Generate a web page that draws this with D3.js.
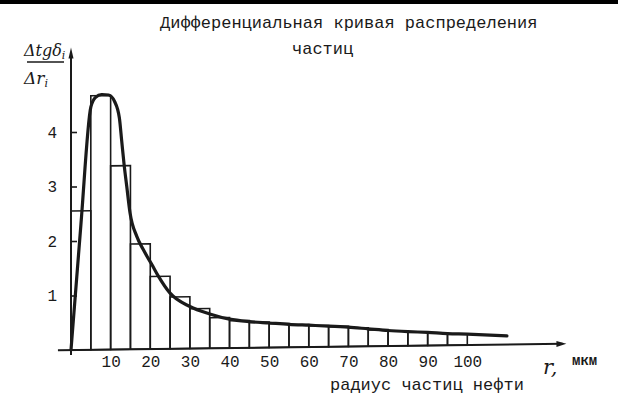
<!DOCTYPE html>
<html>
<head>
<meta charset="utf-8">
<script src="https://cdn.jsdelivr.net/npm/d3@7"></script>
<style>
  html, body { margin: 0; padding: 0; background: #fff; }
  svg { display: block; }
  .mono { font-family: "Liberation Mono", "DejaVu Sans Mono", monospace; fill: #1a1a1a; }
  .hand { font-family: "DejaVu Serif", serif; font-style: italic; fill: #1a1a1a; }
</style>
</head>
<body>
<svg id="chart" width="618" height="405"></svg>
<script>
// ---- data ----
const binStarts = [0, 5, 10, 15, 20, 25, 30, 35, 40, 45, 50, 55, 60, 65, 70, 75, 80, 85, 90, 95];
const binWidth = 5;
const barValues = [2.55, 4.66, 3.37, 1.93, 1.33, 0.95, 0.73, 0.56, 0.50, 0.465, 0.435, 0.41, 0.39, 0.37, 0.34, 0.30, 0.27, 0.25, 0.225, 0.205];
const curveR = [0, 2.5, 5, 6.2, 7.7, 9.5, 11, 12.2, 12.8, 13.4, 14.05, 14.9, 16.6, 18.2, 20.4, 22, 25, 30, 35, 40, 45, 50, 55, 60, 65, 70, 75, 80, 85, 90, 95, 100, 110];
const curveV = [0, 2.3, 4.45, 4.63, 4.68, 4.67, 4.55, 4.25, 3.82, 3.39, 3.0, 2.5, 2.07, 1.83, 1.55, 1.34, 1.02, 0.77, 0.63, 0.53, 0.48, 0.45, 0.42, 0.40, 0.38, 0.355, 0.32, 0.285, 0.26, 0.24, 0.215, 0.20, 0.16];
const xTicks = [10, 20, 30, 40, 50, 60, 70, 80, 90, 100];
const yTicks = [1, 2, 3, 4];
const titleLines = ["Дифференциальная кривая распределения", "частиц"];
const xLabel = "радиус частиц нефти";
const unitLabel = "мкм";

// ---- layout ----
const svg = d3.select("#chart");
const ink = "#1a1a1a";
const x = d3.scaleLinear().domain([0, 100]).range([71, 467.3]);
const y = d3.scaleLinear().domain([0, 4]).range([350, 132]);

svg.append("rect").attr("x", 0).attr("y", 0).attr("width", 618).attr("height", 4).attr("fill", "#000");

// plot group, slightly skewed like the hand-drawn x axis
const g = svg.append("g")
  .attr("transform", `translate(${x(0)},0) skewY(-0.72) translate(${-x(0)},0)`);

// bars
g.selectAll("rect.bar").data(binStarts).join("rect")
  .attr("class", "bar")
  .attr("x", d => x(d))
  .attr("width", d => x(d + binWidth) - x(d))
  .attr("y", (d, i) => y(barValues[i]))
  .attr("height", (d, i) => y(0) - y(barValues[i]))
  .attr("fill", "none")
  .attr("stroke", ink)
  .attr("stroke-width", 1.6);

// x axis line with arrow
g.append("line")
  .attr("x1", x(-3.3)).attr("x2", x(124))
  .attr("y1", y(0)).attr("y2", y(0))
  .attr("stroke", ink).attr("stroke-width", 2);
g.append("path")
  .attr("d", `M${x(125)},${y(0)} L${x(122.5)},${y(0) - 3} L${x(122.5)},${y(0) + 3} Z`)
  .attr("fill", ink);

// y axis line with arrow
g.append("line")
  .attr("x1", x(0)).attr("x2", x(0))
  .attr("y1", y(0) + 5).attr("y2", y(5.4))
  .attr("stroke", ink).attr("stroke-width", 2);
g.append("path")
  .attr("d", `M${x(0)},${y(5.55)} L${x(0) - 2.5},${y(5.35)} L${x(0) + 2.5},${y(5.35)} Z`)
  .attr("fill", ink);

// curve
const line = d3.line()
  .x((d, i) => x(curveR[i]))
  .y((d, i) => y(curveV[i]))
  .curve(d3.curveMonotoneX);
g.append("path")
  .datum(curveR)
  .attr("d", line)
  .attr("fill", "none")
  .attr("stroke", ink)
  .attr("stroke-width", 3.2)
  .attr("stroke-linejoin", "round")
  .attr("stroke-linecap", "round");

// y ticks (inward) and labels
const yAxis = svg.append("g")
  .attr("transform", `translate(${x(0)},0)`)
  .call(d3.axisLeft(y).tickValues(yTicks).tickSize(-6).tickPadding(14).tickFormat(d3.format("d")));
yAxis.select(".domain").remove();
yAxis.selectAll("line").attr("stroke", ink).attr("stroke-width", 1.6);
yAxis.selectAll("text").attr("class", "mono").style("font-size", "16px").attr("fill", ink);

// x tick labels
const xAxis = svg.append("g")
  .attr("transform", `translate(0,${y(0)})`)
  .call(d3.axisBottom(x).tickValues(xTicks).tickSize(0).tickPadding(6).tickFormat(d3.format("d")));
xAxis.select(".domain").remove();
xAxis.selectAll("text").attr("class", "mono").style("font-size", "16px").attr("fill", ink);

// title
svg.append("text").attr("class", "mono").attr("x", 160).attr("y", 28)
  .style("font-size", "17px").text(titleLines[0]);
svg.append("text").attr("class", "mono").attr("x", 292).attr("y", 54)
  .style("font-size", "17px").text(titleLines[1]);

// x axis label and unit
svg.append("text").attr("class", "mono").attr("x", 330).attr("y", 390)
  .style("font-size", "17px").text(xLabel);
svg.append("text").attr("class", "hand").attr("x", 543).attr("y", 374)
  .style("font-size", "21px").text("r,");
svg.append("text").attr("class", "mono").attr("x", 572).attr("y", 365)
  .style("font-size", "14px").style("font-weight", "bold").text(unitLabel);

// y axis label (fraction)
const num = svg.append("text").attr("class", "hand").attr("x", 24).attr("y", 56).style("font-size", "16px");
num.append("tspan").text("Δtgδ");
num.append("tspan").attr("dy", 3).style("font-size", "11px").text("i");
svg.append("line").attr("x1", 27).attr("x2", 64).attr("y1", 62).attr("y2", 62)
  .attr("stroke", ink).attr("stroke-width", 1.6);
const den = svg.append("text").attr("class", "hand").attr("x", 24).attr("y", 84).style("font-size", "17px");
den.append("tspan").text("Δr");
den.append("tspan").attr("dy", 3).style("font-size", "11px").text("i");
</script>
</body>
</html>
